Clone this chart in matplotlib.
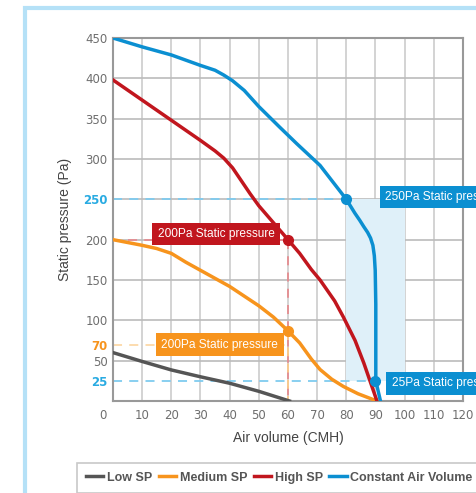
import matplotlib
matplotlib.use("Agg")
import matplotlib.pyplot as plt
import matplotlib.patches as mpatches
import matplotlib.transforms as mtransforms
from matplotlib.lines import Line2D

plt.rcParams['font.family'] = ['Liberation Sans', 'DejaVu Sans']

# ---- data ----
low_x = [0, 10, 20, 30, 40, 50, 60.5]
low_y = [60, 49, 38.5, 30, 22, 12, 0]

med_x = [0, 10, 15, 20, 25, 30, 40, 50, 55, 60, 64, 68, 71, 75, 79, 84, 90.5]
med_y = [200, 193, 189, 183, 172, 162, 142, 118, 104, 87, 72, 52, 39, 27, 18, 9, 0]

high_x = [0, 10, 20, 30, 35, 38, 41, 44, 47, 50, 55, 60, 64, 68, 71, 76, 79, 83, 86, 90.5]
high_y = [398, 373, 348, 323, 310, 301, 289, 273, 257, 242, 221, 200, 183, 163, 150, 124, 104, 75, 47, 0]

cav_x = [0, 10, 20, 30, 35, 38, 41, 45, 50, 57, 63, 71, 80, 82.9, 84.6, 86, 87.3, 88.3, 89.1, 89.6, 89.9, 90.1, 90.1, 91.7]
cav_y = [450, 439, 429, 416, 410, 404, 397, 385, 365, 340, 319, 292, 250, 233, 224, 216, 209, 202, 193, 180, 162, 120, 25, 0]

x_ticks = [0, 10, 20, 30, 40, 50, 60, 70, 80, 90, 100, 110, 120]
y_ticks = [25, 50, 70, 100, 150, 200, 250, 300, 350, 400, 450]
y_grid = [50, 100, 150, 200, 250, 300, 350, 400, 450]

c_low = '#555555'
c_med = '#f7941d'
c_high = '#c1161e'
c_cav = '#0b8fd1'
c_tick = '#6e6e6e'

fig = plt.figure(figsize=(4.77, 4.93), dpi=100)
W, H = 477, 493

# outer light-blue frame (extends past right/bottom edges)
fig.patches.append(mpatches.Rectangle((25 / W, -0.1), 1.2, 1 - 8 / H + 0.1,
                                      transform=fig.transFigure, fill=False,
                                      edgecolor='#b5e1f7', linewidth=3))

ax = fig.add_axes([113 / W, 1 - 401 / H, (463 - 113) / W, (401 - 38) / H])
ax.set_xlim(0, 120)
ax.set_ylim(0, 450)

# grid
for xv in x_ticks[1:-1]:
    ax.axvline(xv, color='#cccccc', lw=1.2, zorder=0)
for yv in y_grid[:-1]:
    ax.axhline(yv, color='#bbbbbb', lw=1.2, zorder=0)

# shaded CAV range
ax.add_patch(mpatches.Rectangle((80, 25), 20, 225, facecolor='#dff0f9', edgecolor='none', zorder=0.5))

# dashed guides
ax.plot([0, 80], [250, 250], ls=(0, (5, 4)), color='#7fcbef', lw=1.3, zorder=1)
ax.plot([0, 90], [25, 25], ls=(0, (5, 4)), color='#7fcbef', lw=1.3, zorder=1)
ax.plot([5, 60], [200, 200], ls=(0, (5, 4)), color='#e58c90', lw=1.3, zorder=1)
ax.plot([60, 60], [200, 0], ls=(0, (5, 4)), color='#e58c90', lw=1.3, zorder=1)
ax.plot([0, 60], [70, 70], ls=(0, (5, 4)), color='#fcd9a8', lw=1.3, zorder=1)
ax.plot([60, 60], [87, 0], ls=(0, (5, 4)), color='#fbc98a', lw=1.3, zorder=1.1)

# curves
ax.plot(low_x, low_y, color=c_low, lw=2.5, zorder=3, label='Low SP')
ax.plot(med_x, med_y, color=c_med, lw=2.5, zorder=3, label='Medium SP')
ax.plot(high_x, high_y, color=c_high, lw=2.5, zorder=3, label='High SP')
ax.plot(cav_x, cav_y, color=c_cav, lw=2.5, zorder=3, label='Constant Air Volume R')

# markers
ax.plot([60], [200], 'o', color=c_high, ms=7, zorder=4)
ax.plot([60], [87], 'o', color=c_med, ms=7, zorder=4)
ax.plot([80, 90], [250, 25], 'o', color=c_cav, ms=7, zorder=4)

# labels in boxes
box_font = dict(fontsize=8.6, color='white')
ax.text(35.4, 207, '200Pa Static pressure', ha='center', va='center', zorder=5,
        bbox=dict(boxstyle='square,pad=0.45', fc=c_high, ec='none'), **box_font)
ax.text(36.6, 70, '200Pa Static pressure', ha='center', va='center', zorder=5,
        bbox=dict(boxstyle='square,pad=0.45', fc=c_med, ec='none'), **box_font)
ax.text(93.3, 253, '250Pa Static pressure', ha='left', va='center', zorder=5, clip_on=False,
        bbox=dict(boxstyle='square,pad=0.45', fc=c_cav, ec='none'), **box_font)
ax.text(95.6, 22, '25Pa Static pressure', ha='left', va='center', zorder=5, clip_on=False,
        bbox=dict(boxstyle='square,pad=0.45', fc=c_cav, ec='none'), **box_font)

# ticks
ax.set_xticks(x_ticks)
ax.set_xticklabels([str(v) for v in x_ticks])
ax.set_yticks(y_ticks)
ax.set_yticklabels([str(v) for v in y_ticks])
ax.tick_params(axis='both', length=0, labelsize=8.5, labelcolor=c_tick, pad=4)
ax.tick_params(axis='x', pad=6)
for lab in ax.get_xticklabels() + ax.get_yticklabels():
    lab.set_family('DejaVu Sans')
for lab, v in zip(ax.get_yticklabels(), y_ticks):
    if v in (25, 250):
        lab.set_color('#29abe2'); lab.set_fontweight('bold')
    elif v == 70:
        lab.set_color(c_med); lab.set_fontweight('bold')
first = ax.get_xticklabels()[0]
first.set_transform(first.get_transform() + mtransforms.ScaledTranslation(-10 / 100, 0, fig.dpi_scale_trans))

for s in ax.spines.values():
    s.set_color('#999999'); s.set_linewidth(1.5)

ax.set_xlabel('Air volume (CMH)', fontsize=10, color='#444444', labelpad=6)
ax.set_ylabel('Static pressure (Pa)', fontsize=10, color='#444444', labelpad=8)

# legend
handles = [Line2D([], [], color=c, lw=2.5) for c in (c_low, c_med, c_high, c_cav)]
names = ['Low SP', 'Medium SP', 'High SP', 'Constant Air Volume R']
leg = fig.legend(handles, names, loc='upper left', bbox_to_anchor=(77 / W, 1 - 463 / H),
                 borderaxespad=0, ncol=4, frameon=True, fancybox=False, handlelength=1.4,
                 handletextpad=0.3, columnspacing=0.5, borderpad=0.7,
                 prop=dict(family='Liberation Sans', weight='bold', size=9))
leg.get_frame().set_edgecolor('#bbbbbb')
leg.get_frame().set_linewidth(1.2)
for t in leg.get_texts():
    t.set_color('#555555')

fig.savefig('out.png', dpi=100)
